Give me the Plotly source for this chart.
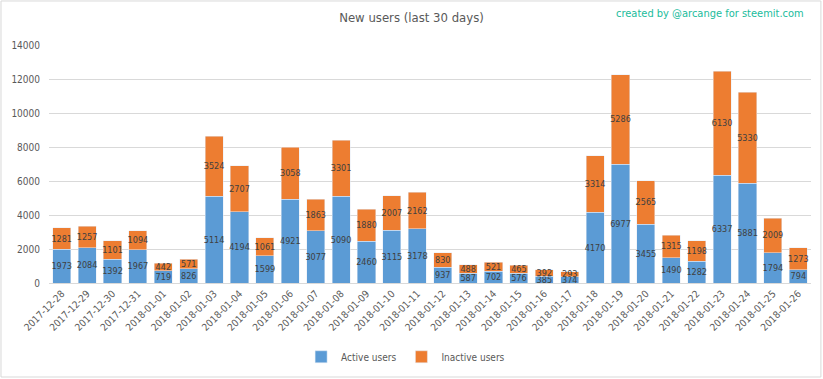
import plotly.graph_objects as go

dates = ["2017-12-28","2017-12-29","2017-12-30","2017-12-31","2018-01-01","2018-01-02","2018-01-03",
         "2018-01-04","2018-01-05","2018-01-06","2018-01-07","2018-01-08","2018-01-09","2018-01-10",
         "2018-01-11","2018-01-12","2018-01-13","2018-01-14","2018-01-15","2018-01-16","2018-01-17",
         "2018-01-18","2018-01-19","2018-01-20","2018-01-21","2018-01-22","2018-01-23","2018-01-24",
         "2018-01-25","2018-01-26"]
active = [1973, 2084, 1392, 1967, 719, 826, 5114, 4194, 1599, 4921, 3077, 5090, 2460, 3115, 3178,
          937, 587, 702, 576, 385, 374, 4170, 6977, 3455, 1490, 1282, 6337, 5881, 1794, 794]
inactive = [1281, 1257, 1101, 1094, 442, 571, 3524, 2707, 1061, 3058, 1863, 3301, 1880, 2007, 2162,
            830, 488, 521, 465, 392, 293, 3314, 5286, 2565, 1315, 1198, 6130, 5330, 2009, 1273]
y_ticks = [0, 2000, 4000, 6000, 8000, 10000, 12000, 14000]

FONT = "DejaVu Sans Condensed, Liberation Sans Narrow, sans-serif"

fig = go.Figure()
fig.add_trace(go.Bar(x=dates, y=active, name="Active users", marker_color="#5b9bd5",
                     text=active, textposition="inside", insidetextanchor="middle",
                     textfont=dict(color="#404040", size=9, family=FONT), textangle=0,
                     constraintext="none", cliponaxis=False))
fig.add_trace(go.Bar(x=dates, y=inactive, name="Inactive users", marker_color="#ed7d31",
                     text=inactive, textposition="inside", insidetextanchor="middle",
                     textfont=dict(color="#404040", size=9, family=FONT), textangle=0,
                     constraintext="none", cliponaxis=False))

fig.update_layout(
    barmode="stack",
    bargap=0.29,
    width=823, height=379,
    margin=dict(l=49, r=12, t=45, b=96, autoexpand=False),
    paper_bgcolor="white", plot_bgcolor="white",
    font=dict(family=FONT, color="#595959", size=10),
    uniformtext=dict(minsize=9, mode="show"),
    title=dict(text="New users (last 30 days)", x=0.5, xanchor="center", y=0.955, yanchor="middle",
               font=dict(size=13, color="#595959", family=FONT)),
    xaxis=dict(type="category", tickangle=-45, tickfont=dict(size=10, color="#595959"),
               showline=True, linecolor="#d9d9d9", ticks="", showgrid=False, automargin=False),
    yaxis=dict(range=[0, 14000], tickvals=y_ticks, tickformat="d", showgrid=True, gridcolor="#d9d9d9",
               zeroline=False, tickfont=dict(size=10, color="#595959"), ticks="", ticklen=0,
               ticklabelstandoff=8, automargin=False),
    legend=dict(orientation="h", x=0.468, xanchor="center", y=-0.31, yanchor="middle",
                font=dict(size=10, color="#595959"), itemwidth=30, traceorder="normal"),
    showlegend=True,
)
fig.add_annotation(text="created by @arcange for steemit.com", xref="paper", yref="paper",
                   x=0.993, y=1.134, xanchor="right", yanchor="middle", showarrow=False,
                   font=dict(size=11, color="#1abc9c", family=FONT))
fig.add_shape(type="rect", xref="paper", yref="paper", x0=-0.063, x1=1.013, y0=-0.395, y1=1.185,
              line=dict(color="#d9d9d9", width=1), layer="below")
fig.write_html("out.html", config={"displayModeBar": False},
               post_script="document.body.style.margin='0';")
